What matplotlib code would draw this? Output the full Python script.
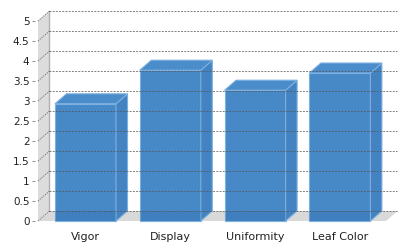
import matplotlib
matplotlib.use("Agg")
import matplotlib.pyplot as plt
from matplotlib.patches import Polygon

# data
categories = ["Vigor", "Display", "Uniformity", "Leaf Color"]
scores = [2.93, 3.77, 3.27, 3.70]
y_ticks = [0, 0.5, 1, 1.5, 2, 2.5, 3, 3.5, 4, 4.5, 5]
y_labels = ["0", "0.5", "1", "1.5", "2", "2.5", "3", "3.5", "4", "4.5", "5"]

# layout (pixels on a 410x250 canvas)
W, H = 410, 250
px_per_cat = 84.8
x_left_px, x_right_px = 38, 386
first_center_px = 85.5
xmin = -(first_center_px - x_left_px) / px_per_cat
xmax = (x_right_px - first_center_px) / px_per_cat
ymax = 5
dx = 11.5 / px_per_cat          # depth offset in category units
dy = 10 / 40.0                  # depth offset in value units (40 px per unit)
bar_w = 61 / px_per_cat

face = "#4788c7"
top_c = "#4b8cca"
side_c = "#4383c2"
edge_c = "#7db0e0"

fig = plt.figure(figsize=(W / 100, H / 100), dpi=100)
ax = fig.add_axes([x_left_px / W, (H - 221) / H, (x_right_px - x_left_px) / W, 200 / H])
ax.set_xlim(xmin, xmax)
ax.set_ylim(0, ymax)
for s in ax.spines.values():
    s.set_visible(False)
ax.patch.set_alpha(0)

# left wall
wall = Polygon([(xmin, 0), (xmin, ymax), (xmin + dx, ymax + dy), (xmin + dx, dy)],
               closed=True, facecolor="#dcdcdc", edgecolor="none", clip_on=False, zorder=1)
ax.add_patch(wall)
ax.plot([xmin + dx, xmin + dx], [dy, ymax + dy], color="#b0b0b0", lw=1, clip_on=False, zorder=2)

# floor
floor = Polygon([(xmin, 0), (xmax, 0), (xmax + dx, dy), (xmin + dx, dy)],
                closed=True, facecolor="#d9d9d9", edgecolor="none", clip_on=False, zorder=1)
ax.add_patch(floor)

# bars
for i, v in enumerate(scores):
    x0, x1 = i - bar_w / 2, i + bar_w / 2
    front = Polygon([(x0, 0), (x1, 0), (x1, v), (x0, v)], closed=True,
                    facecolor=face, edgecolor=edge_c, lw=0.8, clip_on=False, zorder=3)
    side = Polygon([(x1, 0), (x1 + dx, dy), (x1 + dx, v + dy), (x1, v)], closed=True,
                   facecolor=side_c, edgecolor=edge_c, lw=0.8, clip_on=False, zorder=3)
    top = Polygon([(x0, v), (x1, v), (x1 + dx, v + dy), (x0 + dx, v + dy)], closed=True,
                  facecolor=top_c, edgecolor=edge_c, lw=0.8, clip_on=False, zorder=3)
    for p in (front, side, top):
        ax.add_patch(p)
    # darker band where the bar sits in the floor
    ax.add_patch(Polygon([(x0, 0), (x1, 0), (x1, dy), (x0, dy)], closed=True,
                         facecolor="#1f5a96", alpha=0.18, edgecolor="none", zorder=4))

# gridlines on back wall and dotted lines across the side wall
for t in y_ticks:
    ax.plot([xmin + dx, xmax + dx], [t + dy, t + dy], color="#555555", lw=0.7,
            dashes=(2, 1.3), alpha=0.75, clip_on=False, zorder=5)
    ax.plot([xmin, xmin + dx], [t, t + dy], color="#555555", lw=0.7,
            dashes=(1.2, 1.2), alpha=0.8, clip_on=False, zorder=5)

ax.set_yticks(y_ticks)
ax.set_yticklabels(y_labels)
ax.spines["left"].set_position(("outward", 2.2))
ax.tick_params(axis="y", length=2.5, width=0.8, color="#999999", pad=1.5,
               labelsize=7.5, labelcolor="#222222")
ax.set_xticks(range(len(categories)))
ax.set_xticklabels(categories)
ax.tick_params(axis="x", length=0, pad=8, labelsize=8, labelcolor="#222222")

fig.savefig("out.png", dpi=100)
